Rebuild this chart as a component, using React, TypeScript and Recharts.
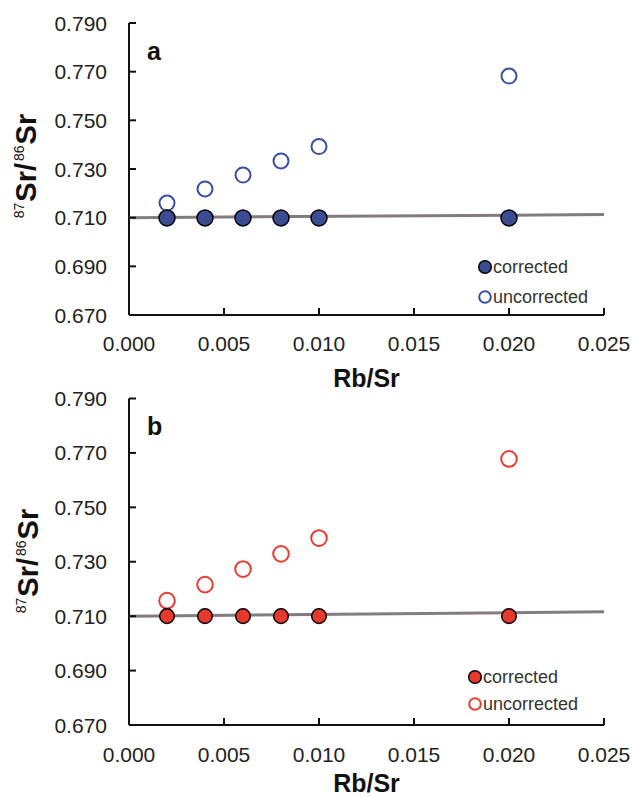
import React from "react";
import { ScatterChart, Scatter, XAxis, YAxis, Legend, Label } from "recharts";

// Rb/Sr ratios of the spiked runs
const rbSr = [0.002, 0.004, 0.006, 0.008, 0.01, 0.02];

// panel a
const correctedA = [0.7099, 0.7099, 0.7099, 0.7099, 0.7099, 0.7099];
const uncorrectedA = [0.716, 0.7218, 0.7275, 0.7333, 0.7392, 0.7682];
const fitA = [0.7100, 0.7113];

// panel b
const correctedB = [0.7100, 0.7100, 0.7100, 0.7100, 0.7100, 0.7100];
const uncorrectedB = [0.7157, 0.7216, 0.7273, 0.7329, 0.7387, 0.7678];
const fitB = [0.7100, 0.7116];

const fitX = [0, 0.025];
const xTicks = [0, 0.005, 0.01, 0.015, 0.02, 0.025];
const yTicks = [0.67, 0.69, 0.71, 0.73, 0.75, 0.77, 0.79];

const FONT = '"Liberation Sans", Arial, sans-serif';
const INK = "#111";

const toPoints = (xs: number[], ys: number[]) =>
  xs.map((x, i) => ({ x, y: ys[i] }));

type PanelProps = {
  letter: string;
  top: number;
  height: number;
  marginTop: number;
  xAxisHeight: number;
  corrected: number[];
  uncorrected: number[];
  fit: number[];
  fill: string;
  openStroke: string;
  dotR: number;
  openR: number;
  tickDy: number;
  titleDy: number;
  yTitleX: number;
  yTitleY: number;
  legendX: number;
  legendY: number;
  legendGap: number;
};

function Panel(p: PanelProps) {
  const XTick = (t: any) => (
    <g>
      <line x1={t.x} y1={t.y} x2={t.x} y2={t.y - 7} stroke={INK} strokeWidth={2} />
      <text x={t.x} y={t.y + p.tickDy} textAnchor="middle" fontFamily={FONT} fontSize={21} fill="#222">
        {Number(t.payload.value).toFixed(3)}
      </text>
    </g>
  );
  const YTick = (t: any) => (
    <g>
      <line x1={t.x} y1={t.y} x2={t.x + 7} y2={t.y} stroke={INK} strokeWidth={2} />
      <text x={t.x - 22} y={t.y + 7.5} textAnchor="end" fontFamily={FONT} fontSize={21} fill="#222">
        {Number(t.payload.value).toFixed(3)}
      </text>
    </g>
  );

  const legendContent = () => (
    <svg width={130} height={p.legendGap + 26} style={{ display: "block" }}>
      <circle cx={8} cy={12} r={6.3} fill={p.fill} stroke="#000" strokeWidth={1.5} />
      <text x={16} y={18} fontFamily={FONT} fontSize={18} fill="#333">corrected</text>
      <circle cx={8} cy={12 + p.legendGap} r={5.8} fill="none" stroke={p.openStroke} strokeWidth={2} />
      <text x={16} y={18 + p.legendGap} fontFamily={FONT} fontSize={18} fill="#333">uncorrected</text>
    </svg>
  );

  return (
    <div style={{ position: "absolute", left: 0, top: p.top }}>
      <ScatterChart
        width={633}
        height={p.height}
        margin={{ top: p.marginTop, right: 29, bottom: 0, left: 0 }}
      >
        <XAxis
          dataKey="x"
          type="number"
          domain={[0, 0.025]}
          ticks={xTicks}
          interval={0}
          height={p.xAxisHeight}
          tickSize={0}
          tickMargin={0}
          tickLine={false}
          tick={XTick}
          axisLine={{ stroke: INK, strokeWidth: 2 }}
        >
          <Label
            content={({ viewBox }: any) => (
              <text
                x={viewBox.x + viewBox.width / 2}
                y={viewBox.y + p.titleDy}
                textAnchor="middle"
                fontFamily={FONT}
                fontSize={25}
                fontWeight="bold"
                fill="#111"
              >
                Rb/Sr
              </text>
            )}
          />
        </XAxis>
        <XAxis xAxisId="top" orientation="top" type="number" domain={[0, 1]} height={0} tick={false} tickLine={false} axisLine={{ stroke: INK, strokeWidth: 2 }} />
        <YAxis
          dataKey="y"
          type="number"
          domain={[0.67, 0.79]}
          ticks={yTicks}
          interval={0}
          width={129}
          allowDataOverflow
          tickSize={0}
          tickMargin={0}
          tickLine={false}
          tick={YTick}
          axisLine={{ stroke: INK, strokeWidth: 2 }}
        >
          <Label
            content={() => (
              <text
                transform={`rotate(-90, ${p.yTitleX}, ${p.yTitleY})`}
                x={p.yTitleX}
                y={p.yTitleY}
                textAnchor="middle"
                fontFamily={FONT}
                fontWeight="bold"
                fontSize={29}
                fill="#111"
              >
                <tspan fontSize={14} fontWeight="normal" dy={-12}>87</tspan>
                <tspan dx={1} dy={12}>Sr/</tspan>
                <tspan fontSize={14} fontWeight="normal" dx={2} dy={-12}>86</tspan>
                <tspan dx={1} dy={12}>Sr</tspan>
              </text>
            )}
          />
        </YAxis>
        <YAxis yAxisId="right" orientation="right" type="number" domain={[0, 1]} width={0} tick={false} tickLine={false} axisLine={{ stroke: INK, strokeWidth: 2 }} />

        <Scatter
          name="fit"
          data={toPoints(fitX, p.fit)}
          line={{ stroke: "#847b7e", strokeWidth: 3 }}
          shape={() => <g />}
          legendType="none"
          isAnimationActive={false}
        />
        <Scatter
          name="uncorrected"
          data={toPoints(rbSr, p.uncorrected)}
          shape={(s: any) => (
            <circle cx={s.cx} cy={s.cy} r={p.openR} fill="none" stroke={p.openStroke} strokeWidth={2} />
          )}
          isAnimationActive={false}
        />
        <Scatter
          name="corrected"
          data={toPoints(rbSr, p.corrected)}
          shape={(s: any) => (
            <circle cx={s.cx} cy={s.cy} r={p.dotR} fill={p.fill} stroke="#000" strokeWidth={1.5} />
          )}
          isAnimationActive={false}
        />

        <Legend
          layout="vertical"
          align="center"
          verticalAlign="middle"
          content={legendContent}
          wrapperStyle={{ left: p.legendX - 8, top: p.legendY - 12, width: 130 }}
        />

        <text x={147} y={60} fontFamily={FONT} fontWeight="bold" fontSize={25} fill="#111">
          {p.letter}
        </text>
      </ScatterChart>
    </div>
  );
}

export default function App() {
  return (
    <div style={{ position: "absolute", left: 0, top: 0, width: 633, height: 797, background: "#fff" }}>
      <Panel
        letter="a"
        top={0}
        height={400}
        marginTop={23}
        xAxisHeight={85}
        corrected={correctedA}
        uncorrected={uncorrectedA}
        fit={fitA}
        fill="#3b4c92"
        openStroke="#3a4ea6"
        dotR={8}
        openR={7.5}
        tickDy={36}
        titleDy={72}
        yTitleX={36}
        yTitleY={166}
        legendX={485}
        legendY={267}
        legendGap={30}
      />
      <Panel
        letter="b"
        top={375}
        height={422}
        marginTop={23.5}
        xAxisHeight={72}
        corrected={correctedB}
        uncorrected={uncorrectedB}
        fit={fitB}
        fill="#e8392e"
        openStroke="#ea3b30"
        dotR={7.3}
        openR={7.8}
        tickDy={37}
        titleDy={67}
        yTitleX={38}
        yTitleY={186}
        legendX={475}
        legendY={302}
        legendGap={27}
      />
    </div>
  );
}
